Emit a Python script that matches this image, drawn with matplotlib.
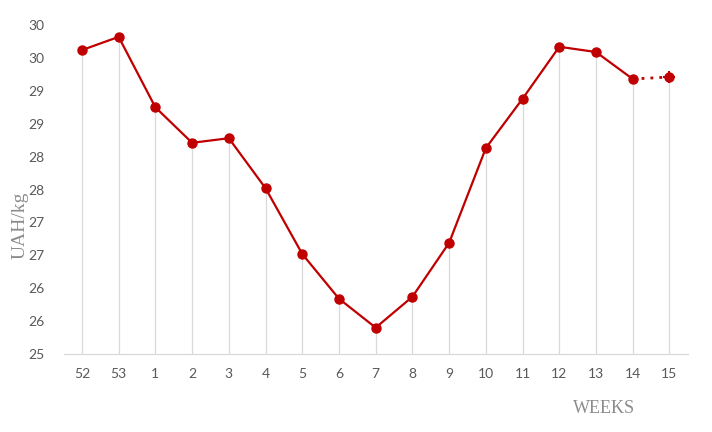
import matplotlib
matplotlib.use('Agg')
import matplotlib.pyplot as plt
from matplotlib.ticker import MultipleLocator, FuncFormatter

# тижні та ціни
weeks = ['52', '53', '1', '2', '3', '4', '5', '6', '7', '8', '9', '10', '11', '12', '13', '14', '15']
prices = [29.62, 29.82, 28.75, 28.21, 28.28, 27.52, 26.52, 25.84, 25.40, 25.87,
          26.69, 28.13, 28.88, 29.67, 29.59, 29.18, 29.21]

red = '#C00000'
grey_text = '#595959'

fig = plt.figure(figsize=(7.12, 4.32), dpi=100)
ax = fig.add_axes([0.0893, 0.1806, 0.8767, 0.7614])

x = list(range(len(weeks)))

# вертикальні лінії від точок до осі
ax.vlines(x, 25, prices, color='#D9D9D9', linewidth=0.9, zorder=1)

# основна лінія (без останнього відрізка)
ax.plot(x[:-1], prices[:-1], color=red, linewidth=1.6, marker='o', markersize=6.5, zorder=3)
# прогноз - пунктир
ax.plot(x[-2:], prices[-2:], color=red, linewidth=2, linestyle=(0, (1, 2.2)), zorder=3)
ax.plot(x[-1], prices[-1], color=red, marker='o', markersize=6.5, zorder=3)
ax.plot(x[-1], prices[-1], color=red, marker='+', markersize=9, markeredgewidth=1.5, zorder=3)

ax.set_xlim(-0.5, len(weeks) - 0.5)
ax.set_ylim(25, 30)
ax.yaxis.set_major_locator(MultipleLocator(0.5))
ax.yaxis.set_major_formatter(FuncFormatter(lambda v, p: '%d' % int(v + 0.5)))
ax.set_xticks(x)
ax.set_xticklabels(weeks)

for s in ['top', 'right', 'left']:
    ax.spines[s].set_visible(False)
ax.spines['bottom'].set_color('#D9D9D9')
ax.spines['bottom'].set_linewidth(0.9)
ax.tick_params(axis='both', length=0, colors=grey_text, labelsize=10)
ax.tick_params(axis='x', pad=10)
ax.tick_params(axis='y', pad=14)
for lbl in ax.get_xticklabels() + ax.get_yticklabels():
    lbl.set_family(['Lato', 'DejaVu Sans'])

fig.text(0.028, 0.479, 'UAH/kg', rotation=90, ha='center', va='center',
         family='Liberation Serif', fontsize=14, color='#8C8C8C')
fig.text(0.849, 0.055, 'WEEKS', ha='center', va='center',
         family='Liberation Serif', fontsize=13, color='#8C8C8C')

fig.savefig('out.png', dpi=100)
